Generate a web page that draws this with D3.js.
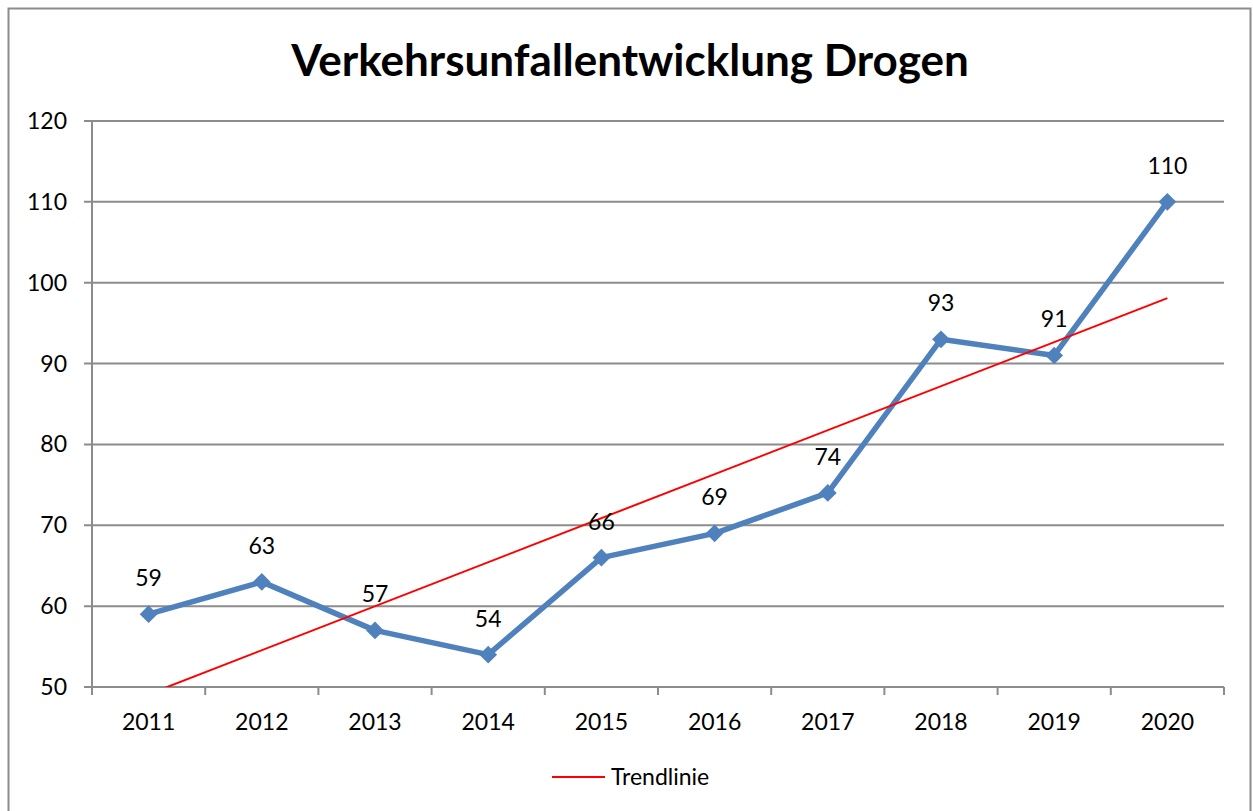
<!DOCTYPE html>
<html>
<head>
<meta charset="utf-8">
<script src="https://cdn.jsdelivr.net/npm/d3@7"></script>
<style>
  body { margin: 0; background: #fff; }
  text { font-family: Lato, "Open Sans", sans-serif; fill: #000; }
</style>
</head>
<body>
<script>
var width = 1253,
    height = 811;

var years = ["2011", "2012", "2013", "2014", "2015", "2016", "2017", "2018", "2019", "2020"];
var unfaelle = [59, 63, 57, 54, 66, 69, 74, 93, 91, 110];
var yTicks = [50, 60, 70, 80, 90, 100, 110, 120];

var margin = {left: 92, top: 121, right: 1224, bottom: 687};

var svg = d3.select("body").append("svg")
    .attr("width", width)
    .attr("height", height);

// Rahmen
svg.append("rect")
    .attr("x", 8.5).attr("y", 8.5)
    .attr("width", 1242).attr("height", 830)
    .attr("fill", "none")
    .attr("stroke", "#8c8c8c")
    .attr("stroke-width", 2);

svg.append("text")
    .attr("x", 630).attr("y", 76)
    .attr("text-anchor", "middle")
    .style("font-size", "44px")
    .style("font-weight", "bold")
    .text("Verkehrsunfallentwicklung Drogen");

var x = d3.scaleBand().domain(years).range([margin.left, margin.right]);
var y = d3.scaleLinear().domain([50, 120]).range([margin.bottom, margin.top]);

// Gitternetz
svg.append("g").selectAll("line")
    .data(yTicks)
    .enter().append("line")
    .attr("x1", margin.left - 8).attr("x2", margin.right)
    .attr("y1", function(d) { return y(d); })
    .attr("y2", function(d) { return y(d); })
    .attr("stroke", "#8c8c8c")
    .attr("stroke-width", 2);

svg.append("g").selectAll("text")
    .data(yTicks)
    .enter().append("text")
    .attr("x", 67)
    .attr("y", function(d) { return y(d) + 8; })
    .attr("text-anchor", "end")
    .style("font-size", "23px")
    .text(function(d) { return d; });

// Achsen
svg.append("line")
    .attr("x1", margin.left).attr("x2", margin.left)
    .attr("y1", margin.top).attr("y2", margin.bottom + 8)
    .attr("stroke", "#8c8c8c").attr("stroke-width", 2);

var boundaries = years.map(function(d) { return x(d) + x.bandwidth(); });
svg.append("g").selectAll("line")
    .data(boundaries)
    .enter().append("line")
    .attr("x1", function(d) { return d; })
    .attr("x2", function(d) { return d; })
    .attr("y1", margin.bottom).attr("y2", margin.bottom + 8)
    .attr("stroke", "#8c8c8c").attr("stroke-width", 2);

svg.append("g").selectAll("text")
    .data(years)
    .enter().append("text")
    .attr("x", function(d) { return x(d) + x.bandwidth() / 2; })
    .attr("y", 730)
    .attr("text-anchor", "middle")
    .style("font-size", "23px")
    .text(function(d) { return d; });

// Trendlinie (lineare Regression)
var n = unfaelle.length;
var mx = (n + 1) / 2, my = d3.mean(unfaelle);
var sxy = d3.sum(unfaelle, function(v, i) { return (i + 1 - mx) * (v - my); });
var sxx = d3.sum(unfaelle, function(v, i) { return (i + 1 - mx) * (i + 1 - mx); });
var slope = sxy / sxx, icpt = my - slope * mx;

svg.append("clipPath").attr("id", "plot")
    .append("rect")
    .attr("x", margin.left).attr("y", margin.top)
    .attr("width", margin.right - margin.left)
    .attr("height", margin.bottom - margin.top);

var cx = function(i) { return x(years[i]) + x.bandwidth() / 2; };

// Datenreihe
var line = d3.line()
    .x(function(d, i) { return cx(i); })
    .y(function(d) { return y(d); });

svg.append("path")
    .datum(unfaelle)
    .attr("d", line)
    .attr("fill", "none")
    .attr("stroke", "#4f81bd")
    .attr("stroke-width", 5.5)
    .attr("stroke-linejoin", "round");

svg.append("g").selectAll("path")
    .data(unfaelle)
    .enter().append("path")
    .attr("d", d3.symbol().type(d3.symbolDiamond2).size(200))
    .attr("transform", function(d, i) { return "translate(" + cx(i) + "," + y(d) + ")"; })
    .attr("fill", "#4f81bd");

svg.append("line")
    .attr("clip-path", "url(#plot)")
    .attr("x1", cx(0)).attr("y1", y(icpt + slope))
    .attr("x2", cx(n - 1)).attr("y2", y(icpt + slope * n))
    .attr("stroke", "#ff0000")
    .attr("stroke-width", 2);

svg.append("g").selectAll("text")
    .data(unfaelle)
    .enter().append("text")
    .attr("x", function(d, i) { return cx(i); })
    .attr("y", function(d) { return y(d) - 28; })
    .attr("text-anchor", "middle")
    .style("font-size", "23px")
    .text(function(d) { return d; });

// Legende
svg.append("line")
    .attr("x1", 552).attr("x2", 605)
    .attr("y1", 777).attr("y2", 777)
    .attr("stroke", "#ff0000").attr("stroke-width", 2);

svg.append("text")
    .attr("x", 611).attr("y", 785)
    .style("font-size", "23px")
    .text("Trendlinie");
</script>
</body>
</html>
